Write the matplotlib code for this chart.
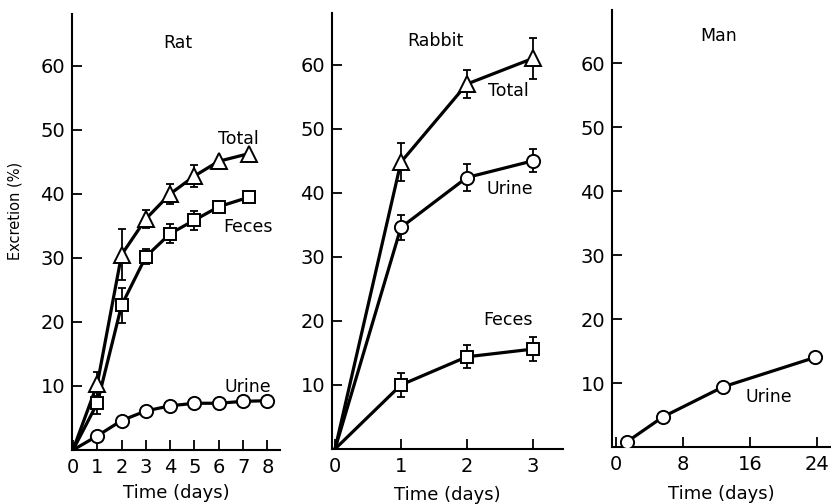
import matplotlib
matplotlib.use("Agg")
import matplotlib.pyplot as plt

plt.rcParams['font.family'] = ['DejaVu Sans']

# Rat
rat_days = [0, 1, 2, 3, 4, 5, 6, 7.25]
rat_total = [0, 10.3, 30.5, 36.1, 40.0, 42.8, 45.1, 46.3]
rat_total_err = [0, 1.9, 4.0, 1.4, 1.6, 1.7, 0, 0]
rat_feces = [0, 7.3, 22.6, 30.2, 33.8, 35.9, 38.0, 39.5]
rat_feces_err = [0, 1.7, 2.7, 1.2, 1.5, 1.5, 0, 0]
rat_urine_days = [0, 1, 2, 3, 4, 5, 6, 7, 8]
rat_urine = [0, 2.2, 4.6, 6.1, 6.9, 7.3, 7.3, 7.6, 7.7]

# Rabbit
rabbit_days = [0, 1, 2, 3]
rabbit_total = [0, 44.8, 57.0, 61.0]
rabbit_total_err = [0, 3.0, 2.2, 3.2]
rabbit_urine = [0, 34.6, 42.4, 45.0]
rabbit_urine_err = [0, 1.9, 2.1, 1.8]
rabbit_feces = [0, 10.0, 14.4, 15.6]
rabbit_feces_err = [0, 1.9, 1.8, 1.9]

# Man
man_days = [1.3, 5.6, 12.8, 23.8]
man_urine = [0.8, 4.7, 9.4, 14.0]

y_ticks = [10, 20, 30, 40, 50, 60]
rat_xticks = [0, 1, 2, 3, 4, 5, 6, 7, 8]
rabbit_xticks = [0, 1, 2, 3]
man_xticks = [0, 8, 16, 24]

W, H = 831, 504
fig = plt.figure(figsize=(W / 100, H / 100), dpi=100)


def make_axes(left, right, top, bottom):
    return fig.add_axes([left / W, 1 - bottom / H, (right - left) / W, (bottom - top) / H])


LW = 2.3
MS = 9.5
MEW = 1.4


def series(ax, x, y, marker, err=None, ms=MS):
    if err is not None:
        xs = [a for a, e in zip(x, err) if e > 0]
        ys = [b for b, e in zip(y, err) if e > 0]
        es = [e for e in err if e > 0]
        ax.errorbar(xs, ys, yerr=es, fmt='none', ecolor='black', elinewidth=1.3,
                    capsize=3, capthick=1.3, zorder=2)
    ax.plot(x, y, color='black', lw=LW, zorder=3)
    xm = [a for a, b in zip(x, y) if not (a == 0 and b == 0)]
    ym = [b for a, b in zip(x, y) if not (a == 0 and b == 0)]
    ax.plot(xm, ym, linestyle='none', marker=marker, ms=ms, mfc='white',
            mec='black', mew=MEW, zorder=4)


def style(ax, xticks, xlim, ylim, labelpad):
    ax.set_xlim(*xlim)
    ax.set_ylim(*ylim)
    for s in ('top', 'right'):
        ax.spines[s].set_visible(False)
    for s in ('left', 'bottom'):
        ax.spines[s].set_linewidth(1.5)
    ax.set_yticks(y_ticks)
    ax.set_xticks(xticks)
    ax.tick_params(direction='in', length=7, width=1.3, labelsize=14)
    ax.tick_params(axis='x', pad=6)
    ax.tick_params(axis='y', pad=5)
    ax.set_xlabel('Time (days)', fontsize=13, labelpad=labelpad)


# Rat panel
ax1 = make_axes(72, 280, 14, 450)
series(ax1, rat_days, rat_total, '^', rat_total_err, ms=11)
series(ax1, rat_days, rat_feces, 's', rat_feces_err, ms=9)
series(ax1, rat_urine_days, rat_urine, 'o')
style(ax1, rat_xticks, (-0.04, 8.52), (0, 68.1), 5)
ax1.text(4.32, 63.6, 'Rat', fontsize=12.5, ha='center', va='center')
ax1.text(6.8, 48.6, 'Total', fontsize=12.5, ha='center', va='center')
ax1.text(7.2, 34.8, 'Feces', fontsize=12.5, ha='center', va='center')
ax1.text(7.2, 9.8, 'Urine', fontsize=12.5, ha='center', va='center')

fig.text(15 / W, 1 - 211 / H, 'Excretion (%)', fontsize=10.5, rotation=90,
         ha='center', va='center')

# Rabbit panel
ax2 = make_axes(332, 563, 13, 449)
series(ax2, rabbit_days, rabbit_total, '^', rabbit_total_err, ms=11)
series(ax2, rabbit_days, rabbit_urine, 'o', rabbit_urine_err)
series(ax2, rabbit_days, rabbit_feces, 's', rabbit_feces_err, ms=9)
style(ax2, rabbit_xticks, (-0.046, 3.46), (0, 68.1), 7)
ax2.text(1.52, 63.75, 'Rabbit', fontsize=12.5, ha='center', va='center')
ax2.text(2.63, 55.9, 'Total', fontsize=12.5, ha='center', va='center')
ax2.text(2.66, 40.6, 'Urine', fontsize=12.5, ha='center', va='center')
ax2.text(2.62, 20.2, 'Feces', fontsize=12.5, ha='center', va='center')

# Man panel
ax3 = make_axes(612, 831, 10, 447)
series(ax3, man_days, man_urine, 'o')
style(ax3, man_xticks, (-0.48, 25.7), (0, 68.3), 8)
ax3.text(12.3, 64.2, 'Man', fontsize=12.5, ha='center', va='center')
ax3.text(18.3, 7.8, 'Urine', fontsize=12.5, ha='center', va='center')

fig.savefig('out.png', dpi=100)
